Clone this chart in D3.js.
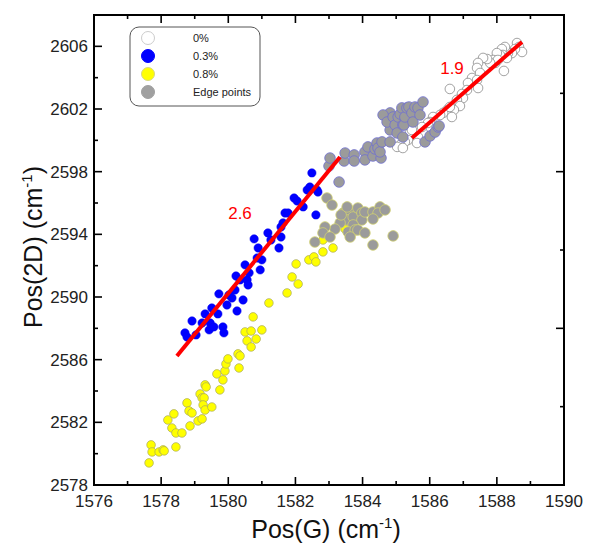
<!DOCTYPE html>
<html><head><meta charset="utf-8">
<script src="https://cdn.jsdelivr.net/npm/d3@7"></script>
<style>body{margin:0;background:#fff}svg{display:block}text{font-family:"Liberation Sans",Arial,sans-serif}</style>
</head><body>
<svg id="c" width="589" height="543"></svg>
<script>
const xTicks = [1576,1578,1580,1582,1584,1586,1588,1590];
const yTicks = [2578,2582,2586,2590,2594,2598,2602,2606];
const legendLabels = ["0%","0.3%","0.8%","Edge points"];
const slopeLabels = ["2.6","1.9"];
const fitLine26 = [[1578.47,2586.24],[1583.33,2598.94]];
const fitLine19 = [[1585.47,2600.15],[1588.75,2606.28]];

const open0 = [[1588.60,2606.21],[1588.66,2605.96],[1588.75,2605.64],[1588.54,2605.83],[1588.45,2605.57],[1588.33,2605.57],[1588.24,2605.96],[1588.15,2605.83],[1588.18,2605.45],[1588.30,2605.26],[1588.09,2605.45],[1588.00,2605.57],[1587.95,2604.94],[1587.89,2605.13],[1588.03,2605.13],[1588.21,2604.43],[1587.80,2604.94],[1587.71,2605.19],[1587.59,2605.26],[1587.44,2604.94],[1587.41,2604.62],[1587.50,2604.30],[1587.26,2603.98],[1587.14,2603.66],[1587.41,2603.85],[1587.44,2603.34],[1587.11,2603.21],[1586.96,2602.96],[1586.99,2602.70],[1586.60,2603.28],[1586.81,2602.58],[1586.90,2602.19],[1586.72,2601.94],[1586.52,2601.94],[1586.40,2601.75],[1586.66,2601.49],[1586.60,2602.13],[1586.31,2601.62],[1586.10,2601.49],[1586.01,2601.17],[1585.92,2600.85],[1585.71,2600.72],[1585.80,2600.47],[1585.65,2600.21],[1585.41,2600.47],[1585.35,2600.02],[1585.62,2599.83],[1585.26,2599.90],[1585.12,2599.70],[1585.03,2599.58],[1585.20,2599.51],[1585.95,2601.11],[1585.77,2600.85],[1585.47,2600.66]];

const blue03 = [[1578.71,2587.71],[1578.77,2587.45],[1578.92,2588.47],[1579.04,2587.58],[1579.22,2588.34],[1579.31,2588.92],[1579.43,2587.90],[1579.46,2588.34],[1579.51,2589.30],[1579.57,2588.09],[1579.69,2588.92],[1579.72,2590.20],[1579.84,2588.09],[1579.87,2587.71],[1579.96,2589.49],[1580.02,2590.13],[1580.20,2590.45],[1580.26,2589.11],[1580.23,2591.34],[1580.35,2591.09],[1580.44,2589.81],[1580.50,2592.05],[1580.56,2591.09],[1580.62,2591.54],[1580.86,2592.49],[1580.89,2593.13],[1580.95,2591.73],[1581.00,2592.37],[1580.77,2593.71],[1581.18,2594.09],[1581.27,2593.64],[1581.51,2593.13],[1581.57,2593.83],[1581.57,2594.47],[1581.63,2594.73],[1581.69,2595.36],[1581.78,2595.36],[1581.96,2596.32],[1582.05,2596.13],[1582.23,2595.75],[1582.35,2596.83],[1582.43,2597.02],[1582.49,2597.92],[1582.64,2596.83],[1582.67,2596.70],[1582.61,2595.24],[1580.59,2590.77],[1580.11,2589.94]];

const yellow08 = [[1577.64,2579.41],[1577.70,2580.56],[1577.73,2580.11],[1577.94,2580.11],[1578.06,2580.24],[1578.09,2580.18],[1578.44,2580.43],[1578.20,2582.15],[1578.32,2581.64],[1578.38,2582.54],[1578.44,2581.32],[1578.62,2581.32],[1578.77,2583.24],[1578.83,2582.73],[1578.92,2582.60],[1578.86,2581.77],[1579.10,2582.09],[1579.22,2582.22],[1579.16,2583.81],[1579.22,2583.56],[1579.28,2583.56],[1579.25,2583.11],[1579.31,2582.79],[1579.51,2582.98],[1579.31,2584.39],[1579.34,2584.26],[1579.66,2585.09],[1579.75,2584.07],[1579.84,2584.71],[1579.90,2585.28],[1579.93,2585.73],[1579.99,2586.05],[1580.29,2586.37],[1580.35,2586.24],[1580.32,2585.47],[1580.50,2587.77],[1580.68,2587.83],[1580.56,2587.20],[1580.68,2586.81],[1580.83,2587.32],[1580.74,2588.73],[1581.00,2587.90],[1581.21,2589.62],[1581.75,2590.26],[1581.90,2591.28],[1582.08,2590.83],[1582.02,2592.11],[1582.40,2592.37],[1582.55,2592.56],[1582.61,2592.24],[1582.82,2593.64],[1582.82,2592.88],[1583.12,2593.13],[1583.48,2594.34]];

const edgeBlue = [[1583.00,2598.36],[1583.03,2598.87],[1583.30,2597.34],[1583.45,2598.68],[1583.48,2599.19],[1583.75,2599.07],[1583.75,2598.68],[1584.07,2599.26],[1584.07,2598.75],[1584.16,2599.58],[1584.31,2599.00],[1584.37,2599.45],[1584.43,2599.83],[1584.46,2599.51],[1584.55,2598.87],[1584.52,2599.26],[1584.58,2599.90],[1584.82,2599.90],[1584.82,2600.66],[1584.82,2601.75],[1584.61,2601.62],[1584.73,2601.17],[1584.91,2601.49],[1584.97,2600.98],[1585.03,2600.47],[1585.06,2601.49],[1585.12,2601.68],[1585.17,2602.07],[1585.20,2600.98],[1585.20,2600.21],[1585.23,2600.98],[1585.26,2601.49],[1585.32,2602.07],[1585.38,2602.13],[1585.47,2601.75],[1585.50,2601.17],[1585.56,2602.13],[1585.65,2602.07],[1585.71,2601.62],[1585.80,2602.45],[1585.86,2599.90],[1586.01,2600.28],[1586.16,2600.53],[1586.25,2600.85],[1586.28,2600.92]];

const edgeYellow = [[1582.94,2596.32],[1583.09,2595.87],[1583.42,2595.36],[1583.63,2595.36],[1583.54,2594.92],[1583.72,2595.11],[1583.86,2595.68],[1583.98,2595.36],[1583.98,2594.92],[1583.72,2594.60],[1584.07,2595.43],[1584.31,2595.43],[1584.52,2595.75],[1584.46,2595.36],[1584.67,2595.56],[1584.31,2594.98],[1583.33,2594.73],[1583.18,2594.34],[1582.88,2594.47],[1582.82,2594.09],[1583.03,2593.83],[1582.58,2593.51],[1583.57,2594.15],[1583.78,2594.28],[1583.86,2594.28],[1583.63,2593.83],[1584.07,2594.09],[1584.31,2593.32],[1584.91,2593.90],[1583.36,2595.24],[1583.54,2595.75]];

const svg = d3.select("#c");
const L=94, R=564, T=15, B=485;
const x = d3.scaleLinear().domain([1576,1590]).range([L,R]);
const y = d3.scaleLinear().domain([2578,2608]).range([B,T]);

function series(data, r, fill, stroke, sw){
  svg.append("g").selectAll("circle").data(data).join("circle")
    .attr("cx",d=>x(d[0])).attr("cy",d=>y(d[1])).attr("r",r)
    .attr("fill",fill).attr("stroke",stroke).attr("stroke-width",sw);
}
series(open0,4.8,"#fff","#8a8a8a",0.8);
series(blue03,4.2,"#0000ff","#0000ee",0.5);
series(yellow08,4.3,"#ffff00","#a8a860",0.7);
series(edgeBlue,5.3,"#9b9b9b","#7070d0",0.8);
series(edgeYellow,5.3,"#9b9b9b","#d0d070",0.8);

const line = d3.line().x(d=>x(d[0])).y(d=>y(d[1]));
[fitLine26, fitLine19].forEach(l=>svg.append("path").attr("d",line(l)).attr("stroke","#ff0000").attr("stroke-width",4).attr("fill","none"));

svg.append("text").attr("x",240).attr("y",219).attr("text-anchor","middle").attr("fill","#ff0000").attr("font-size",17).text(slopeLabels[0]);
svg.append("text").attr("x",452).attr("y",74).attr("text-anchor","middle").attr("fill","#ff0000").attr("font-size",17).text(slopeLabels[1]);

// axes
const xMinor = d3.range(1577,1590,2);
const yMinor = d3.range(2580,2608,4);
const rMajor = [2588,2598];
const rMinor = [2583,2593,2603];
const ax = svg.append("g").attr("stroke","#000").attr("stroke-width",1.6);
xTicks.forEach(v=>{ ax.append("line").attr("x1",x(v)).attr("x2",x(v)).attr("y1",B).attr("y2",B-8);
  ax.append("line").attr("x1",x(v)).attr("x2",x(v)).attr("y1",T).attr("y2",T+8);});
xMinor.forEach(v=>{ ax.append("line").attr("x1",x(v)).attr("x2",x(v)).attr("y1",B).attr("y2",B-4);
  ax.append("line").attr("x1",x(v)).attr("x2",x(v)).attr("y1",T).attr("y2",T+4);});
yTicks.forEach(v=>ax.append("line").attr("x1",L).attr("x2",L+8).attr("y1",y(v)).attr("y2",y(v)));
yMinor.forEach(v=>ax.append("line").attr("x1",L).attr("x2",L+4).attr("y1",y(v)).attr("y2",y(v)));
rMajor.forEach(v=>ax.append("line").attr("x1",R).attr("x2",R-8).attr("y1",y(v)).attr("y2",y(v)));
rMinor.forEach(v=>ax.append("line").attr("x1",R).attr("x2",R-4).attr("y1",y(v)).attr("y2",y(v)));
svg.append("rect").attr("x",L).attr("y",T).attr("width",R-L).attr("height",B-T).attr("fill","none").attr("stroke","#000").attr("stroke-width",2);

svg.append("g").selectAll("text").data(xTicks).join("text")
  .attr("x",d=>x(d)).attr("y",B+22).attr("text-anchor","middle").attr("font-size",17).attr("fill","#222").text(d=>d);
svg.append("g").selectAll("text").data(yTicks).join("text")
  .attr("x",L-6).attr("y",d=>y(d)+6).attr("text-anchor","end").attr("font-size",17).attr("fill","#222").text(d=>d);

const xt = svg.append("text").attr("x",326).attr("y",538).attr("text-anchor","middle").attr("font-size",25).attr("fill","#111");
xt.append("tspan").text("Pos(G) (cm");
xt.append("tspan").attr("dy",-10).attr("font-size",15).text("-1");
xt.append("tspan").attr("dy",10).text(")");
const yt = svg.append("text").attr("transform","translate(42,247) rotate(-90)").attr("text-anchor","middle").attr("font-size",25).attr("fill","#111");
yt.append("tspan").text("Pos(2D) (cm");
yt.append("tspan").attr("dy",-10).attr("font-size",15).text("-1");
yt.append("tspan").attr("dy",10).text(")");

// legend
const lg = svg.append("g");
lg.append("rect").attr("x",130).attr("y",27).attr("width",130).attr("height",79).attr("rx",9).attr("fill","#fff").attr("stroke","#555").attr("stroke-width",1);
const lgStyle = [["#fff","#ccc"],["#0000ff","#0000ff"],["#ffff00","#d8d880"],["#a0a0a0","#a0a0a0"]];
legendLabels.forEach((t,i)=>{
  const cy = 38 + i*18;
  lg.append("circle").attr("cx",148).attr("cy",cy).attr("r",6.5).attr("fill",lgStyle[i][0]).attr("stroke",lgStyle[i][1]).attr("stroke-width",1);
  lg.append("text").attr("x",193).attr("y",cy+4).attr("font-size",11).attr("fill","#222").text(t);
});
</script>
</body></html>
